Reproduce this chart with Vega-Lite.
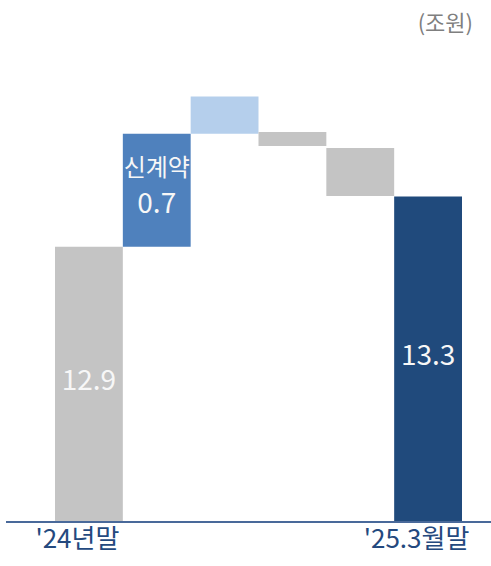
{
  "$schema": "https://vega.github.io/schema/vega-lite/v6.json",
  "width": 485,
  "height": 522,
  "autosize": "none",
  "padding": {"left": 6, "top": 0, "right": 0, "bottom": 44},
  "background": "white",
  "config": {"view": {"stroke": null}, "font": "Noto Sans CJK KR"},
  "title": {"text": "(조원)", "anchor": "end", "frame": "group", "orient": "top", "offset": -36, "fontSize": 22, "fontWeight": "normal", "color": "#7f7f7f", "dx": -18},
  "data": {"values": [
    {"cat": "'24년말", "kind": "기초", "start": 0, "end": 12.9, "label": "12.9", "name": ""},
    {"cat": "신계약", "kind": "신계약", "start": 12.9, "end": 13.6, "label": "\n0.7", "name": "신계약"},
    {"cat": "증가", "kind": "증가", "start": 13.6, "end": 13.83, "label": "", "name": ""},
    {"cat": "감소1", "kind": "감소", "start": 13.61, "end": 13.523, "label": "", "name": ""},
    {"cat": "감소2", "kind": "감소", "start": 13.511, "end": 13.213, "label": "", "name": ""},
    {"cat": "'25.3월말", "kind": "기말", "start": 0, "end": 13.21, "label": "13.3", "name": ""}
  ]},
  "transform": [{"calculate": "(max(datum.start, 11.194) + datum.end) / 2", "as": "mid"}],
  "layer": [
    {
      "mark": {"type": "bar", "clip": true},
      "encoding": {
        "x": {"field": "cat", "type": "nominal", "sort": null,
          "scale": {"range": [49, 456], "paddingInner": 0, "paddingOuter": 0},
          "axis": {"title": null, "domain": false, "ticks": false, "labelAngle": 0, "labelFontSize": 26, "labelColor": "#24497e", "labelPadding": 4, "labelOffset": -11.5,
            "labelExpr": "datum.label == \"'24년말\" || datum.label == \"'25.3월말\" ? datum.label : ''"}},
        "y": {"field": "start", "type": "quantitative", "scale": {"domain": [11.194, 14.428], "zero": false, "nice": false}, "axis": null},
        "y2": {"field": "end"},
        "color": {"field": "kind", "type": "nominal", "legend": null,
          "scale": {"domain": ["기초", "신계약", "증가", "감소", "기말"], "range": ["#c4c4c4", "#4f81bd", "#b5cfec", "#c4c4c4", "#204a7c"]}}
      }
    },
    {
      "mark": {"type": "rule", "color": "#4a6a9a", "strokeWidth": 1.5},
      "encoding": {"y": {"datum": 11.194, "type": "quantitative"}}
    },
    {
      "mark": {"type": "text", "color": "#f7f7f7", "fontSize": 28, "lineBreak": "\n", "lineHeight": 17, "baseline": "middle", "dy": -2},
      "encoding": {
        "x": {"field": "cat", "type": "nominal", "sort": null},
        "y": {"field": "mid", "type": "quantitative"},
        "text": {"field": "label"}
      }
    },
    {
      "mark": {"type": "text", "color": "#f7f7f7", "fontSize": 24, "baseline": "middle", "dy": -21},
      "encoding": {
        "x": {"field": "cat", "type": "nominal", "sort": null},
        "y": {"field": "mid", "type": "quantitative"},
        "text": {"field": "name"}
      }
    }
  ]
}
